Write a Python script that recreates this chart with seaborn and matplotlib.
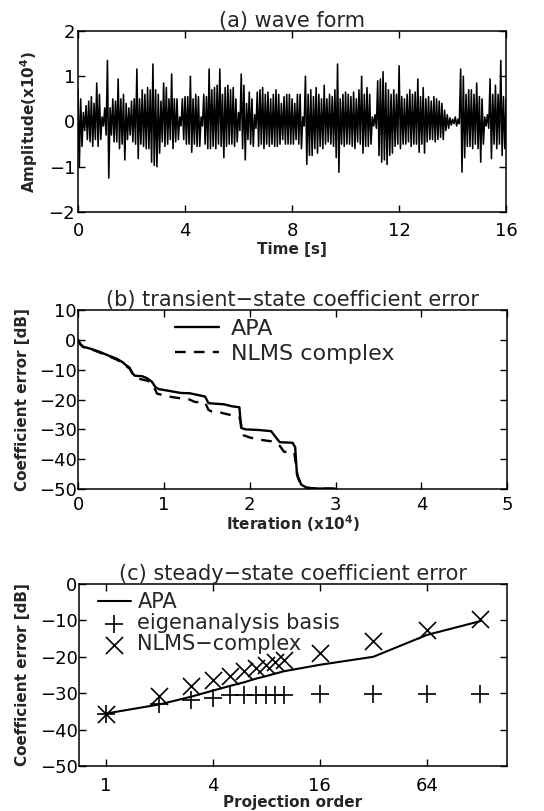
import matplotlib
matplotlib.use("Agg")
import matplotlib.pyplot as plt
import seaborn as sns
import numpy as np
import pandas as pd

# ---------------- data ----------------
# (a) speech waveform: upper / lower envelope read every 0.1 s (x10^4)
wave_t = [round(i * 0.1, 1) for i in range(161)]
wave_hi = [0.70, 0.50, 0.20, 0.35, 0.45, 0.55, 0.40, 0.85, 0.60, 0.10,
           0.30, 1.35, 0.30, 0.50, 0.45, 0.94, 0.50, 0.60, 0.40, 0.30,
           0.45, 0.50, 1.16, 0.50, 0.70, 0.60, 0.75, 0.70, 1.27, 0.70,
           0.60, 0.45, 0.85, 0.75, 0.50, 1.05, 0.50, 0.50, 0.10, 0.50,
           0.55, 0.55, 1.00, 0.50, 0.60, 0.55, 0.10, 0.60, 0.55, 1.16,
           0.70, 0.75, 0.80, 1.16, 0.60, 0.75, 0.80, 0.70, 0.75, 0.50,
           0.20, 1.05, 0.80, 0.40, 0.65, 0.50, 0.15, 0.65, 0.70, 0.75,
           0.60, 0.65, 0.50, 0.60, 0.70, 0.60, 0.40, 0.55, 0.60, 0.60,
           0.50, 0.40, 0.60, 0.60, 0.10, 1.00, 0.60, 0.70, 0.55, 0.75,
           0.60, 0.50, 0.80, 0.50, 0.60, 0.55, 0.70, 1.27, 0.50, 0.60,
           0.65, 0.60, 0.55, 0.65, 0.50, 0.70, 1.00, 0.60, 0.75, 0.60,
           0.10, 0.15, 0.90, 0.94, 1.10, 0.85, 0.70, 0.60, 0.70, 0.60,
           1.23, 0.55, 0.50, 0.60, 0.70, 0.60, 0.65, 0.94, 0.55, 0.75,
           0.50, 0.55, 0.45, 0.55, 0.50, 0.45, 0.40, 0.25, 0.15, 0.08,
           0.05, 0.10, 0.05, 1.16, 1.00, 0.60, 0.70, 0.70, 0.60, 0.85,
           0.55, 0.50, 0.10, 0.15, 0.94, 0.60, 0.80, 0.60, 1.35, 0.55,
           0.50]
wave_lo = [-1.00, -0.55, -0.20, -0.40, -0.45, -0.55, -0.40, -0.55, -0.40, -0.10,
           -0.30, -1.25, -0.30, -0.45, -0.45, -0.60, -0.50, -0.85, -0.40, -0.30,
           -0.45, -0.50, -0.82, -0.50, -0.55, -0.60, -0.60, -0.90, -0.97, -1.00,
           -0.70, -0.45, -0.55, -0.50, -0.40, -0.60, -0.45, -0.40, -0.10, -0.40,
           -0.50, -0.50, -0.68, -0.50, -0.55, -0.55, -0.10, -0.50, -0.60, -0.60,
           -0.55, -0.60, -0.50, -0.55, -0.80, -0.55, -0.50, -0.50, -0.55, -0.45,
           -0.20, -0.60, -0.85, -0.40, -0.50, -0.55, -0.15, -0.55, -0.50, -0.60,
           -0.50, -0.55, -0.50, -0.55, -0.55, -0.50, -0.40, -0.50, -0.50, -0.50,
           -0.50, -0.40, -0.50, -0.60, -0.10, -0.95, -0.75, -0.75, -0.60, -0.70,
           -0.55, -0.60, -0.50, -0.45, -0.50, -0.55, -0.80, -1.12, -0.50, -0.55,
           -0.50, -0.50, -0.55, -0.60, -0.45, -0.50, -0.70, -0.55, -0.55, -0.50,
           -0.10, -0.15, -0.75, -0.90, -0.85, -0.95, -0.75, -0.70, -0.55, -0.50,
           -0.60, -0.50, -0.50, -0.45, -0.55, -0.50, -0.50, -0.68, -0.50, -0.70,
           -0.45, -0.40, -0.40, -0.45, -0.40, -0.35, -0.40, -0.20, -0.15, -0.08,
           -0.05, -0.10, -0.05, -1.12, -0.80, -0.55, -0.55, -0.60, -0.50, -0.60,
           -0.90, -0.50, -0.10, -0.15, -0.82, -0.50, -0.60, -0.50, -0.75, -0.60,
           -0.50]

# (b) transient-state coefficient error
apa_iter = [0.00, 0.03, 0.06, 0.15, 0.25, 0.35, 0.45, 0.52, 0.56, 0.60, 0.63,
            0.66, 0.75, 0.80, 0.86, 0.90, 0.94, 1.00, 1.10, 1.20, 1.30, 1.40,
            1.48, 1.52, 1.60, 1.70, 1.80, 1.88, 1.90, 1.95, 2.10, 2.25, 2.30,
            2.35, 2.50, 2.53, 2.55, 2.60, 2.66, 2.75, 3.00]
apa_db = [0.0, -1.5, -2.3, -3.0, -4.0, -5.2, -6.3, -7.5, -8.5, -9.3, -11.0,
          -12.0, -12.2, -12.8, -14.0, -15.8, -16.5, -16.8, -17.3, -17.8, -17.9,
          -18.5, -19.0, -21.2, -21.4, -21.6, -22.3, -22.6, -29.5, -30.0, -30.2,
          -30.6, -32.5, -34.3, -34.5, -36.0, -45.0, -48.5, -49.5, -49.8, -49.9]
nlms_iter = [0.00, 0.03, 0.06, 0.15, 0.25, 0.35, 0.45, 0.52, 0.56, 0.60, 0.64,
             0.67, 0.75, 0.82, 0.88, 0.92, 1.00, 1.10, 1.20, 1.30, 1.36, 1.48,
             1.52, 1.56, 1.65, 1.75, 1.88, 1.93, 2.00, 2.10, 2.25, 2.35, 2.40,
             2.52, 2.54, 2.56, 2.60, 2.66, 2.75, 3.00]
nlms_db = [0.0, -1.6, -2.4, -3.1, -4.2, -5.4, -6.6, -7.8, -8.8, -9.6, -11.5,
           -12.8, -13.3, -13.8, -15.5, -18.0, -18.6, -19.2, -19.6, -20.0, -20.8,
           -21.0, -23.5, -24.0, -24.3, -25.0, -25.8, -32.0, -32.7, -33.4, -34.0,
           -35.5, -37.5, -37.8, -42.0, -46.0, -48.8, -49.6, -49.8, -49.9]

# (c) steady-state coefficient error vs projection order
order = [1, 2, 3, 4, 5, 6, 7, 8, 9, 10, 16, 32, 64, 128]
apa_ss = [-35.6, -33.1, -31.0, -29.3, -28.0, -27.0, -26.0, -25.3, -24.6, -24.0,
          -22.2, -20.0, -14.0, -10.2]
eigen_ss = [-35.6, -32.9, -31.8, -31.2, -30.6, -30.5, -30.5, -30.5, -30.5, -30.5,
            -30.1, -30.1, -30.1, -30.1]
nlms_ss = [-35.6, -30.7, -28.0, -26.4, -25.2, -23.9, -23.0, -22.2, -21.3, -20.8,
           -19.0, -15.7, -12.7, -9.6]

# ---------------- style ----------------
sns.set_theme(style="ticks")
plt.rcParams.update({
    "font.family": ["DejaVu Sans"],
    "axes.linewidth": 1.1,
    "axes.edgecolor": "black",
    "xtick.direction": "in",
    "ytick.direction": "in",
    "xtick.top": True,
    "ytick.right": True,
    "xtick.major.size": 5,
    "ytick.major.size": 5,
    "xtick.major.width": 1.0,
    "ytick.major.width": 1.0,
    "xtick.color": "black",
    "ytick.color": "black",
    "xtick.labelsize": 13,
    "ytick.labelsize": 13,
    "axes.labelsize": 11,
    "axes.labelweight": "bold",
    "axes.titlesize": 15,
})

fig = plt.figure(figsize=(5.44, 8.11), dpi=100)
ax1 = fig.add_axes([0.1434, 0.7386, 0.787, 0.2232])
ax2 = fig.add_axes([0.1434, 0.3970, 0.789, 0.2207])
ax3 = fig.add_axes([0.1452, 0.0555, 0.787, 0.2244])

# ---------------- (a) waveform ----------------
rows_t, rows_a = [], []
for t, h, l in zip(wave_t, wave_hi, wave_lo):
    rows_t += [t, t + 0.05]
    rows_a += [h, l]
wave_df = pd.DataFrame({"t": rows_t, "amp": rows_a})
sns.lineplot(data=wave_df, x="t", y="amp", sort=False, estimator=None,
             color="black", lw=1.15, ax=ax1)
ax1.set_xlim(0, 16)
ax1.set_ylim(-2, 2)
ax1.set_xticks([0, 4, 8, 12, 16])
ax1.set_yticks([-2, -1, 0, 1, 2])
ax1.set_title("(a) wave form", pad=2)
ax1.set_xlabel("Time [s]")
ax1.set_ylabel(r"Amplitude(x10$^{\mathbf{4}}$)")
ax1.tick_params(axis="x", pad=7)
ax1.tick_params(axis="y", pad=2)
ax1.xaxis.set_label_coords(0.5, -0.165)
ax1.yaxis.set_label_coords(-0.089, 0.5)

# ---------------- (b) transient ----------------
df_b = pd.concat([
    pd.DataFrame({"iter": apa_iter, "err": apa_db, "alg": "APA"}),
    pd.DataFrame({"iter": nlms_iter, "err": nlms_db, "alg": "NLMS complex"}),
], ignore_index=True)
sns.lineplot(data=df_b, x="iter", y="err", style="alg", sort=False,
             estimator=None, color="black", lw=1.7,
             dashes={"APA": "", "NLMS complex": (4.5, 3.5)}, ax=ax2)
ax2.set_xlim(0, 5)
ax2.set_ylim(-50, 10)
ax2.set_xticks([0, 1, 2, 3, 4, 5])
ax2.set_yticks([-50, -40, -30, -20, -10, 0, 10])
ax2.set_title("(b) transient\u2212state coefficient error", pad=2)
ax2.set_xlabel(r"Iteration (x10$^{\mathbf{4}}$)")
ax2.set_ylabel("Coefficient error [dB]")
ax2.tick_params(axis="x", pad=5)
ax2.tick_params(axis="y", pad=1)
ax2.xaxis.set_label_coords(0.5, -0.134)
ax2.yaxis.set_label_coords(-0.112, 0.5)
ax2.legend(loc="upper left", bbox_to_anchor=(0.226, 0.95),
           frameon=False, fontsize=16, handlelength=2.0,
           handletextpad=0.5, labelspacing=0.22, borderpad=0,
           borderaxespad=0)

# ---------------- (c) steady state ----------------
sns.lineplot(x=order, y=apa_ss, color="black", lw=1.5, ax=ax3, label="APA")
sns.scatterplot(x=order, y=eigen_ss, marker="+", s=170, color="black",
                linewidth=1.2, ax=ax3, label="eigenanalysis basis")
sns.scatterplot(x=order, y=nlms_ss, marker="x", s=150, color="black",
                linewidth=1.2, ax=ax3, label="NLMS\u2212complex")
ax3.set_xscale("log", base=2)
ax3.set_xlim(2 ** -0.5, 2 ** 7.5)
ax3.set_ylim(-50, 0)
ax3.set_xticks([1, 4, 16, 64])
ax3.set_xticklabels(["1", "4", "16", "64"])
ax3.minorticks_off()
ax3.set_yticks([-50, -40, -30, -20, -10, 0])
ax3.set_title("(c) steady\u2212state coefficient error", pad=2)
ax3.set_xlabel("Projection order")
ax3.set_ylabel("Coefficient error [dB]")
ax3.tick_params(axis="x", pad=8)
ax3.tick_params(axis="y", pad=1)
ax3.xaxis.set_label_coords(0.5, -0.159)
ax3.yaxis.set_label_coords(-0.114, 0.5)
ax3.legend(loc="upper left", bbox_to_anchor=(0.044, 0.955), frameon=False,
           fontsize=15, handlelength=1.6, handletextpad=0.3,
           labelspacing=0.05, borderpad=0, borderaxespad=0)

fig.savefig("out.png", dpi=100)
